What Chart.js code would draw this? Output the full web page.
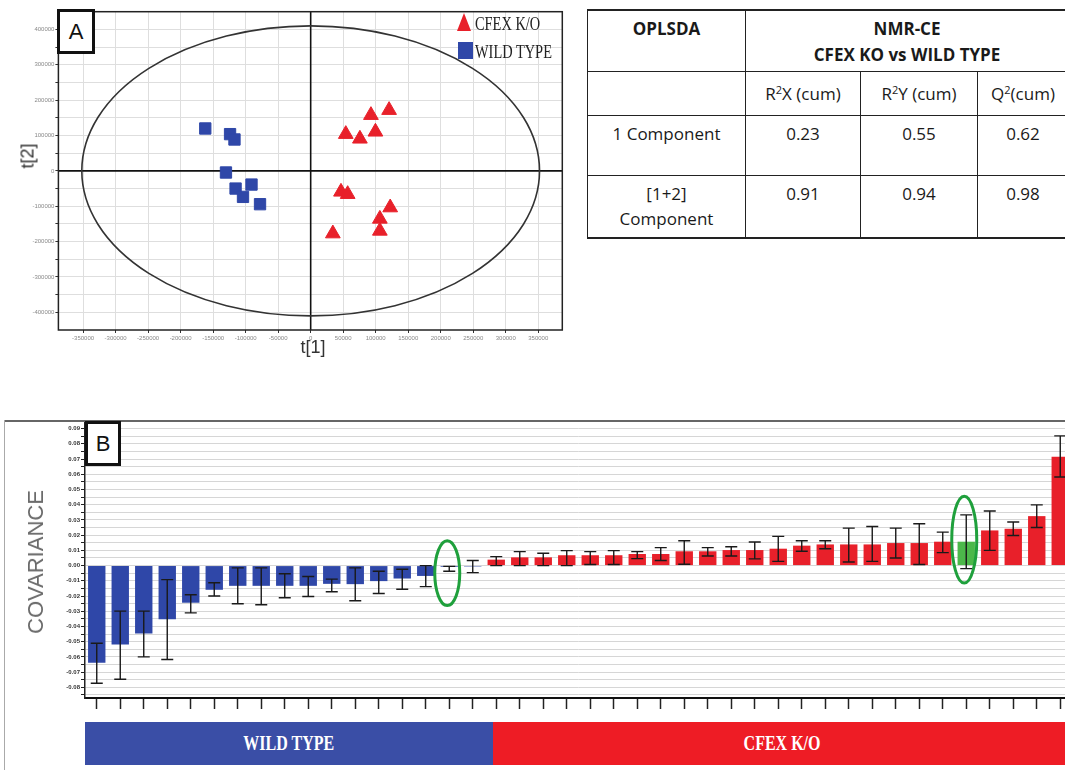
<!DOCTYPE html>
<html>
<head>
<meta charset="utf-8">
<script src="https://cdn.jsdelivr.net/npm/chart.js@4.4.1/dist/chart.umd.min.js"></script>
<style>
  body { margin: 0; width: 1065px; height: 770px; overflow: hidden; background: #fff; position: relative;
         font-family: 'Liberation Sans', Arial, sans-serif; }
  .abs { position: absolute; }
  .letter-box { box-sizing: border-box; border: 3px solid #111; background: #fff; font-size: 22px;
                color: #111; display: flex; align-items: center; justify-content: center; }
  .rot { transform: translate(-50%, -50%) rotate(-90deg); white-space: nowrap; }
  .ctr { transform: translate(-50%, -50%); white-space: nowrap; }
  .serif { font-family: 'Liberation Serif', 'Times New Roman', serif; white-space: nowrap;
           transform-origin: left center; }
  #stats { border-collapse: collapse; table-layout: fixed; width: 481px;
           font-family: 'Open Sans', sans-serif; font-size: 17px; color: #1a1a1a; }
  #stats td, #stats th { border: 1.5px solid #222; text-align: center; padding: 0; }
  #stats tr:first-child th { border-top-width: 2px; }
  #stats tr:last-child td { border-bottom-width: 2px; }
  #stats th { vertical-align: top; padding-top: 5px; line-height: 26px; font-weight: 700; }
  #stats .top td { vertical-align: top; padding-top: 5px; line-height: 25px; }
  #stats sup { font-size: 11px; vertical-align: 6px; line-height: 0; }
  .band { top: 722px; height: 43px; color: #fff; display: flex; align-items: center; justify-content: center; }
  .band span { font-family: 'Liberation Serif', 'Times New Roman', serif; font-size: 20px; font-weight: bold;
               display: inline-block; transform: scaleX(0.8); }
</style>
</head>
<body>

<!-- Panel A: score plot -->
<canvas id="scoreChart" class="abs" width="580" height="370" style="left:0;top:0"></canvas>
<div class="abs letter-box" style="left:57px;top:9px;width:38px;height:45px">A</div>
<div class="abs" style="left:457px;top:13px;width:0;height:0;border-left:7.5px solid transparent;border-right:7.5px solid transparent;border-bottom:18px solid #e8202a"></div>
<div class="abs serif" style="left:475px;top:14px;font-size:18px;line-height:20px;color:#222;transform:scaleX(0.8)">CFEX K/O</div>
<div class="abs" style="left:458px;top:42px;width:15px;height:17px;background:#2f47a8"></div>
<div class="abs serif" style="left:475px;top:42px;font-size:18px;line-height:20px;color:#222;transform:scaleX(0.8)">WILD TYPE</div>
<div class="abs rot" style="left:28px;top:156px;font-size:18px;color:#333">t[2]</div>
<div class="abs ctr" style="left:313px;top:347px;font-size:18px;color:#333">t[1]</div>

<!-- Model statistics table -->
<table id="stats" class="abs" style="left:587px;top:9px">
  <colgroup><col style="width:158px"><col style="width:115px"><col style="width:117px"><col style="width:91px"></colgroup>
  <tr style="height:61px"><th>OPLSDA</th><th colspan="3">NMR-CE<br>CFEX KO vs WILD TYPE</th></tr>
  <tr style="height:44px"><td></td><td>R<sup>2</sup>X (cum)</td><td>R<sup>2</sup>Y (cum)</td><td>Q<sup>2</sup>(cum)</td></tr>
  <tr class="top" style="height:60px"><td>1 Component</td><td>0.23</td><td>0.55</td><td>0.62</td></tr>
  <tr class="top" style="height:63px"><td>[1+2]<br>Component</td><td>0.91</td><td>0.94</td><td>0.98</td></tr>
</table>

<!-- Panel B: covariance bars -->
<div class="abs" style="left:0;top:400px;width:1065px;height:310px;overflow:hidden">
  <canvas id="covChart" width="1110" height="310"></canvas>
</div>
<div class="abs" style="left:4px;top:420px;width:1061px;height:2px;background:#666"></div>
<div class="abs" style="left:4px;top:420px;width:1px;height:350px;background:#aaa"></div>
<div class="abs letter-box" style="left:85px;top:421px;width:36px;height:45px">B</div>
<div class="abs rot" style="left:36px;top:562px;font-size:22px;color:#6b6b6b">COVARIANCE</div>
<div class="abs band" style="left:85px;width:408px;background:#3a4ea6"><span>WILD TYPE</span></div>
<div class="abs band" style="left:493px;width:579px;background:#ee1c25"><span>CFEX K/O</span></div>

<script>
// ---- Panel A data (score plot t[1] vs t[2]) ----
const koX = [92700, 120600, 54000, 75700, 99600, 46600, 56900, 122300, 106400, 106400, 34100];
const koY = [157500, 171700, 103800, 90600, 110400, -59400, -66000, -103800, -135800, -169800, -177400];
const wtX = [-162100, -124000, -117200, -130300, -115500, -104100, -91000, -77900];
const wtY = [119800, 103800, 88700, -4700, -50000, -73600, -38700, -94300];
const xTicksA = [-350000, -300000, -250000, -200000, -150000, -100000, -50000, 0,
                 50000, 100000, 150000, 200000, 250000, 300000, 350000];
const yTicksA = [-400000, -350000, -300000, -250000, -200000, -150000, -100000, -50000, 0,
                 50000, 100000, 150000, 200000, 250000, 300000, 350000, 400000];
const ellipseAxes = [352000, 410000];   // Hotelling T2 ellipse semi-axes

// ---- Panel B data (covariance per variable) ----
const variables = ['X1','X2','X3','X4','X5','X6','X7','X8','X9','X10','X11','X12','X13','X14',
  'X15','X16','X17','X18','X19','X20','X21','X22','X23','X24','X25','X26','X27','X28','X29',
  'X30','X31','X32','X33','X34','X35','X36','X37','X38','X39','X40','X41','X42'];
const covariance = [-0.0639, -0.0519, -0.0447, -0.0353, -0.0244, -0.0159, -0.0133, -0.0133,
  -0.0133, -0.0133, -0.0120, -0.0122, -0.0102, -0.0085, -0.0068, -0.0008, -0.0006,
  0.0039, 0.0054, 0.0054, 0.0068, 0.0068, 0.0068, 0.0076, 0.0076, 0.0094, 0.0094, 0.0102,
  0.0102, 0.0111, 0.0131, 0.0139, 0.0139, 0.0139, 0.0148, 0.0148, 0.0157, 0.0157, 0.0231,
  0.0242, 0.0325, 0.0715];
const errLow = [-0.0773, -0.0747, -0.0600, -0.0617, -0.0311, -0.0200, -0.0251, -0.0257,
  -0.0211, -0.0203, -0.0172, -0.0231, -0.0183, -0.0155, -0.0138, -0.0037, -0.0046,
  0.0000, 0.0000, 0.0000, 0.0000, 0.0007, 0.0007, 0.0046, 0.0033, 0.0009, 0.0063, 0.0063,
  0.0044, 0.0028, 0.0094, 0.0111, 0.0024, 0.0028, 0.0050, 0.0007, 0.0085, -0.0020, 0.0100,
  0.0198, 0.0250, 0.0582];
const errHigh = [-0.0510, -0.0299, -0.0299, -0.0092, -0.0192, -0.0113, -0.0015, -0.0015,
  -0.0054, -0.0072, -0.0089, -0.0015, -0.0037, -0.0024, 0.0000, -0.0005, 0.0033,
  0.0059, 0.0092, 0.0081, 0.0098, 0.0092, 0.0098, 0.0092, 0.0118, 0.0163, 0.0118, 0.0124,
  0.0155, 0.0192, 0.0163, 0.0163, 0.0246, 0.0257, 0.0246, 0.0275, 0.0220, 0.0333, 0.0359,
  0.0286, 0.0399, 0.0852];
const wildTypeCount = 17;       // first variables belong to the WILD TYPE side
const greenIndex = 37;          // highlighted variable
// circled variables: [index, lower value, upper value]
const circled = [[15, -0.0263, 0.0164], [37, -0.0115, 0.0456]];
const yTicksB = [-0.085, -0.08, -0.075, -0.07, -0.065, -0.06, -0.055, -0.05, -0.045, -0.04,
  -0.035, -0.03, -0.025, -0.02, -0.015, -0.01, -0.005, 0, 0.005, 0.01, 0.015, 0.02, 0.025,
  0.03, 0.035, 0.04, 0.045, 0.05, 0.055, 0.06, 0.065, 0.07, 0.075, 0.08, 0.085, 0.09];

const RED = '#e8202a', BLUE = '#2f47a8';

// ---- Panel A ----
const scoreDecor = {
  id: 'scoreDecor',
  beforeDatasetsDraw(chart) {
    const { ctx, chartArea: a, scales: { x, y } } = chart;
    const cx = x.getPixelForValue(0), cy = y.getPixelForValue(0);
    ctx.save();
    ctx.strokeStyle = '#111';
    ctx.lineWidth = 1.6;
    ctx.beginPath();
    ctx.moveTo(a.left, cy); ctx.lineTo(a.right, cy);
    ctx.moveTo(cx, a.top); ctx.lineTo(cx, a.bottom);
    ctx.stroke();
    ctx.strokeStyle = '#333';
    ctx.lineWidth = 1.6;
    ctx.beginPath();
    ctx.ellipse(cx, cy, x.getPixelForValue(ellipseAxes[0]) - cx, cy - y.getPixelForValue(ellipseAxes[1]), 0, 0, Math.PI * 2);
    ctx.stroke();
    ctx.restore();
  },
  afterDraw(chart) {
    const { ctx, chartArea: a } = chart;
    ctx.save();
    ctx.strokeStyle = '#222';
    ctx.lineWidth = 1.5;
    ctx.strokeRect(a.left, a.top, a.right - a.left, a.bottom - a.top);
    ctx.restore();
  }
};

new Chart(document.getElementById('scoreChart'), {
  type: 'scatter',
  data: {
    datasets: [
      { label: 'CFEX K/O', data: koX.map((v, i) => ({ x: v, y: koY[i] })),
        pointStyle: 'triangle', pointRadius: 8.5, backgroundColor: RED, borderColor: RED, borderWidth: 1 },
      { label: 'WILD TYPE', data: wtX.map((v, i) => ({ x: v, y: wtY[i] })),
        pointStyle: 'rect', pointRadius: 8, backgroundColor: BLUE, borderColor: BLUE, borderWidth: 1 }
    ]
  },
  options: {
    responsive: false,
    animation: false,
    devicePixelRatio: 1,
    layout: { padding: { left: 0, top: 11.7, right: 17.7, bottom: 0 } },
    plugins: { legend: { display: false }, tooltip: { enabled: false } },
    scales: {
      x: {
        min: -388000, max: 387000,
        afterBuildTicks: s => { s.ticks = xTicksA.map(v => ({ value: v })); },
        afterFit: s => { s.height = 40; },
        grid: { color: '#dedede', tickColor: '#333', tickLength: 3 },
        border: { display: false },
        ticks: { autoSkip: false, maxRotation: 0, padding: 2, color: '#888', font: { size: 6 },
                 callback: v => String(v) }
      },
      y: {
        min: -450000, max: 450000,
        afterBuildTicks: s => { s.ticks = yTicksA.map(v => ({ value: v })); },
        afterFit: s => { s.width = 58.4; },
        grid: { color: '#dedede', tickColor: '#333', tickLength: 3 },
        border: { display: false },
        ticks: { autoSkip: false, padding: 1, color: '#888', font: { size: 6 },
                 callback: v => (v % 100000 === 0 ? String(v) : '') }
      }
    }
  },
  plugins: [scoreDecor]
});

// ---- Panel B ----
const covDecor = {
  id: 'covDecor',
  afterDatasetsDraw(chart) {
    const { ctx, scales: { x, y } } = chart;
    ctx.save();
    ctx.strokeStyle = '#1a1a1a';
    ctx.lineWidth = 1.4;
    ctx.beginPath();
    errLow.forEach((lo, i) => {
      const px = x.getPixelForValue(i);
      const yl = y.getPixelForValue(lo), yh = y.getPixelForValue(errHigh[i]);
      ctx.moveTo(px, yl); ctx.lineTo(px, yh);
      ctx.moveTo(px - 6, yl); ctx.lineTo(px + 6, yl);
      ctx.moveTo(px - 6, yh); ctx.lineTo(px + 6, yh);
    });
    ctx.stroke();
    ctx.strokeStyle = '#1fa03c';
    ctx.lineWidth = 3;
    circled.forEach(([i, lo, hi]) => {
      const px = x.getPixelForValue(i);
      const y1 = y.getPixelForValue(hi), y2 = y.getPixelForValue(lo);
      ctx.beginPath();
      ctx.ellipse(px - 2, (y1 + y2) / 2, 12.5, (y2 - y1) / 2, 0, 0, Math.PI * 2);
      ctx.stroke();
    });
    ctx.restore();
  }
};

new Chart(document.getElementById('covChart'), {
  type: 'bar',
  data: {
    labels: variables,
    datasets: [{
      data: covariance,
      backgroundColor: c => (c.dataIndex === greenIndex ? '#4cb84a' : c.dataIndex < wildTypeCount ? BLUE : RED),
      barPercentage: 0.74,
      categoryPercentage: 1
    }]
  },
  options: {
    responsive: false,
    animation: false,
    devicePixelRatio: 1,
    layout: { padding: { left: 0, top: 21, right: 38, bottom: 0 } },
    plugins: { legend: { display: false }, tooltip: { enabled: false } },
    scales: {
      x: {
        afterFit: s => { s.height = 12; },
        grid: { drawOnChartArea: false, offset: false, tickColor: '#222', tickLength: 11, tickWidth: 1.5 },
        border: { color: '#111', width: 2 },
        ticks: { display: false }
      },
      y: {
        min: -0.087, max: 0.095,
        afterBuildTicks: s => { s.ticks = yTicksB.map(v => ({ value: v })); },
        afterFit: s => { s.width = 85; },
        grid: { color: '#d6d6d6', tickColor: '#222', tickLength: 4 },
        border: { color: '#222', width: 1.5 },
        ticks: { autoSkip: false, padding: 1, color: '#333', font: { size: 6, weight: 'bold' },
                 callback: v => (Math.round(v * 200) % 2 === 0 ? v.toFixed(2) : '') }
      }
    }
  },
  plugins: [covDecor]
});
</script>
</body>
</html>
